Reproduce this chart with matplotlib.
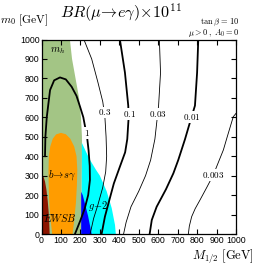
import matplotlib
matplotlib.use("Agg")
import matplotlib.pyplot as plt
from matplotlib.patches import Polygon

plt.rcParams['mathtext.fontset'] = 'cm'

# ---------------- data ----------------
ticks = [0, 100, 200, 300, 400, 500, 600, 700, 800, 900, 1000]

green_x = [0, 0, 146, 157, 175, 193, 203, 208, 208, 205, 0]
green_y = [0, 1000, 1000, 900, 800, 700, 600, 500, 400, 0, 0]

cyan_x = [207, 230, 250, 280, 300, 335, 361, 378, 382, 205, 208]
cyan_y = [470, 420, 380, 330, 300, 220, 133, 46, 0, 0, 400]

blue_x = [204, 212, 225, 240, 258, 204]
blue_y = [217, 200, 150, 90, 0, 0]

orange_x = [55, 47, 40, 37, 36, 38, 45, 58, 75, 100, 125, 148, 168, 180, 184, 182, 177, 168, 160]
orange_y = [0, 70, 160, 250, 330, 400, 450, 490, 512, 520, 513, 490, 450, 400, 330, 250, 160, 70, 0]

red_x = [0, 0, 10, 18, 25, 32, 37, 40, 42]
red_y = [0, 300, 295, 270, 230, 170, 110, 50, 0]

# contour BR = 1 (thick)
c1_x = [18, 20, 27, 44, 65, 95, 125, 155, 180, 198, 215, 224, 232, 242, 248, 249, 240, 222, 200, 172]
c1_y = [400, 500, 600, 740, 790, 805, 795, 757, 710, 655, 600, 552, 520, 430, 350, 278, 200, 130, 70, 0]
# contour 0.3 (thin)
c03_x = [218, 258, 290, 315, 326, 332, 335, 330, 315, 290, 268, 250]
c03_y = [1000, 900, 780, 680, 600, 500, 400, 320, 240, 150, 80, 0]
# contour 0.1 (thick)
c01_x = [403, 429, 446, 448, 441, 430, 403, 372, 349, 326, 309]
c01_y = [1000, 830, 660, 600, 488, 420, 346, 260, 175, 89, 0]
# contour 0.03 (thin)
c003_x = [606, 612, 602, 583, 561, 535, 500, 460, 435, 422]
c003_y = [1000, 830, 660, 488, 380, 300, 220, 140, 60, 0]
# contour 0.01 (thick)
c001_x = [806, 800, 789, 765, 738, 703, 678, 640, 592, 567, 556]
c001_y = [1000, 830, 660, 580, 488, 380, 312, 230, 140, 72, 0]
# contour 0.003 (thin)
c0003_x = [1000, 986, 955, 935, 910, 883, 850, 815, 790, 772, 760, 755]
c0003_y = [620, 603, 500, 432, 370, 303, 240, 175, 130, 89, 40, 0]

contour_labels = ["1", "0.3", "0.1", "0.03", "0.01", "0.003"]
label_x = [234, 326, 452, 597, 772, 883]
label_y = [518, 625, 617, 617, 601, 303]

# ---------------- figure ----------------
fig = plt.figure(figsize=(2.55, 2.66), dpi=100)
ax = fig.add_axes([41.5/255, 1-234/266, 194.5/255, 194.5/266])
ax.set_xlim(0, 1000)
ax.set_ylim(0, 1000)

def poly(xs, ys, color, z):
    ax.add_patch(Polygon(list(zip(xs, ys)), closed=True, facecolor=color,
                         edgecolor='none', zorder=z))

poly(green_x, green_y, '#a3c585', 1)
poly(cyan_x, cyan_y, '#00ffff', 1.1)
poly(blue_x, blue_y, '#0000ff', 1.2)
poly(orange_x, orange_y, '#ff9c00', 1.3)
poly(red_x, red_y, '#8c1500', 1.4)

thick, thin = 1.3, 0.6
ax.plot(c1_x, c1_y, color='black', lw=thick, zorder=3)
ax.plot(c03_x, c03_y, color='black', lw=thin, zorder=3)
ax.plot(c01_x, c01_y, color='black', lw=thick, zorder=3)
ax.plot(c003_x, c003_y, color='black', lw=thin, zorder=3)
ax.plot(c001_x, c001_y, color='black', lw=thick, zorder=3)
ax.plot(c0003_x, c0003_y, color='black', lw=thin, zorder=3)

for t, x, y in zip(contour_labels, label_x, label_y):
    ax.text(x, y, '$' + t + '$', fontsize=6.5, ha='center', va='center', zorder=4,
            bbox=dict(facecolor='white', edgecolor='none', pad=0.6))

ax.text(45, 945, r'$m_h$', fontsize=7.5, ha='left', va='center', zorder=5)
ax.text(35, 305, r'$b\!\rightarrow\! s\gamma$', fontsize=7.5, ha='left', va='center', zorder=5)
ax.text(8, 82, r'$EWSB$', fontsize=7.5, ha='left', va='center', zorder=5)
ax.text(240, 145, r'$g\!-\!2$', fontsize=7.5, ha='left', va='center', zorder=5)

ax.set_xticks(ticks)
ax.set_yticks(ticks)
ax.set_xticklabels([str(t) for t in ticks], fontfamily='Liberation Sans', fontsize=6.3)
ax.set_yticklabels([str(t) for t in ticks], fontfamily='Liberation Sans', fontsize=6.3)
ax.tick_params(direction='in', top=True, right=True, length=3.5, width=0.8, pad=1.5)
for s in ax.spines.values():
    s.set_linewidth(0.9)
    s.set_zorder(6)

fig.text(0.476, 0.951, r'$BR(\mu\!\rightarrow\! e\gamma)\!\times\!10^{11}$', fontsize=11.6,
         ha='center', va='center')
fig.text(0.0, 0.925, r'$m_0\ [\mathrm{GeV}]$', fontsize=8.3, ha='left', va='center')
fig.text(240/255, 0.917, r'$\tan\beta\,=\,10$', fontsize=6, ha='right', va='center')
fig.text(239/255, 0.876, r'$\mu>0\;,\;A_0=0$', fontsize=6, ha='right', va='center')
fig.text(254/255, 0.034, r'$M_{1/2}\ [\mathrm{GeV}]$', fontsize=9, ha='right', va='center')

fig.savefig('out.png', dpi=100)
